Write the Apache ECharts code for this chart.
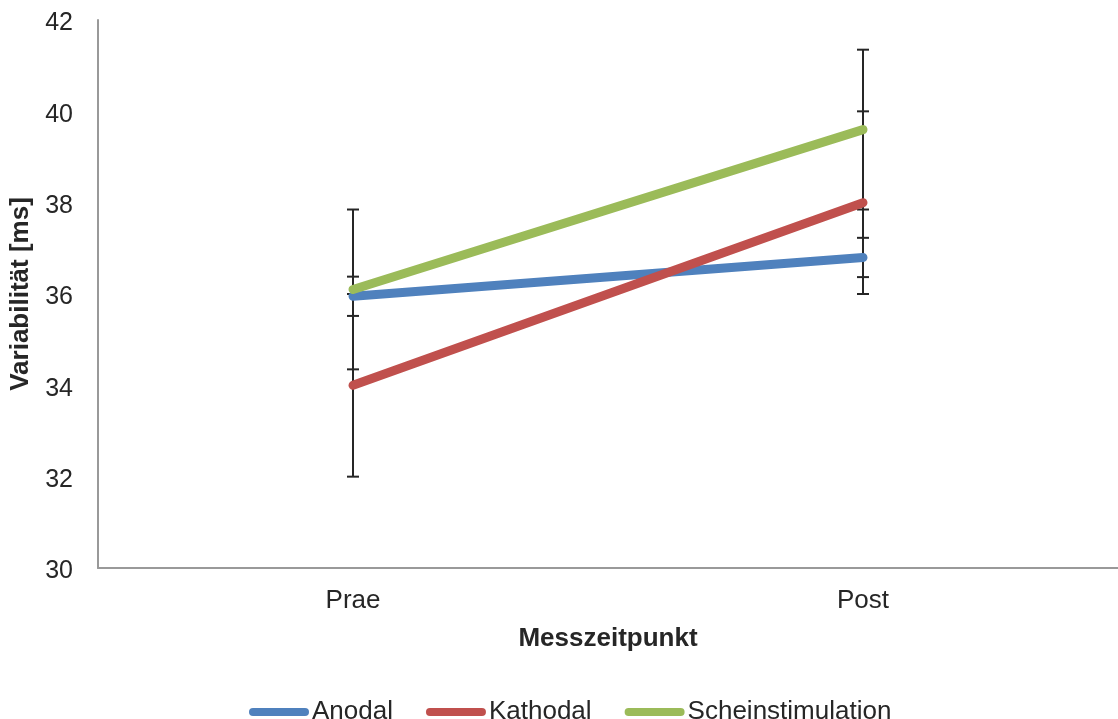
<!DOCTYPE html>
<html>
<head>
<meta charset="utf-8">
<script src="https://cdn.jsdelivr.net/npm/echarts@6/dist/echarts.min.js"></script>
<style>
html,body{margin:0;padding:0;background:#fff;}
#chart{width:1118px;height:719px;}
</style>
</head>
<body>
<div id="chart"></div>
<script>
const categories = ['Prae', 'Post'];
const anodal = [35.95, 36.8];
const kathodal = [34.0, 38.0];
const schein = [36.1, 39.6];
const anodalErr = [0.43, 0.43];
const kathodalErr = [2.0, 2.0];
const scheinErr = [1.75, 1.75];
const yTicks = [30, 32, 34, 36, 38, 40, 42];

const names = ['Anodal', 'Kathodal', 'Scheinstimulation'];
const colors = ['#4F81BD', '#C0504D', '#9BBB59'];
const values = [anodal, kathodal, schein];
const errs = [anodalErr, kathodalErr, scheinErr];

const chart = echarts.init(document.getElementById('chart'));
const FONT = 'Liberation Sans, Arial, sans-serif';
const TXT = '#262626';

function renderErr(params, api) {
  const x = api.value(0), v = api.value(1), e = api.value(2);
  const top = api.coord([x, v + e]);
  const bot = api.coord([x, v - e]);
  const hw = 6;
  const st = {stroke: '#262626', lineWidth: 2};
  return {type: 'group', children: [
    {type: 'line', shape: {x1: top[0], y1: top[1], x2: bot[0], y2: bot[1]}, style: st},
    {type: 'line', shape: {x1: top[0] - hw, y1: top[1], x2: top[0] + hw, y2: top[1]}, style: st},
    {type: 'line', shape: {x1: bot[0] - hw, y1: bot[1], x2: bot[0] + hw, y2: bot[1]}, style: st}
  ]};
}

const series = [];
names.forEach((n, i) => {
  series.push({
    name: n + ' err', type: 'custom', renderItem: renderErr, z: 1,
    data: categories.map((c, k) => [k, values[i][k], errs[i][k]]),
    silent: true
  });
});
names.forEach((n, i) => {
  series.push({
    name: n, type: 'line', data: values[i], z: 3,
    showSymbol: false, symbol: 'none',
    lineStyle: {color: colors[i], width: 9, cap: 'round'},
    itemStyle: {color: colors[i]}
  });
});

chart.setOption({
  animation: false,
  backgroundColor: '#fff',
  textStyle: {fontFamily: FONT},
  grid: {left: 98, width: 1026, top: 20, bottom: 151, containLabel: false},
  legend: {
    data: names,
    top: 694,
    left: 244,
    icon: 'path://M4,0 L56,0 A4,4 0 0 1 56,8 L4,8 A4,4 0 0 1 4,0 Z',
    itemWidth: 60, itemHeight: 8,
    itemGap: 33,
    textStyle: {fontSize: 26, color: TXT, fontFamily: FONT, padding: [0, 0, 0, -2]}
  },
  xAxis: {
    type: 'category', data: categories, boundaryGap: true,
    name: 'Messzeitpunkt', nameLocation: 'middle', nameGap: 58,
    nameTextStyle: {fontSize: 26, fontWeight: 'bold', color: TXT, fontFamily: FONT},
    axisLine: {lineStyle: {color: '#999', width: 2}},
    axisTick: {show: false},
    axisLabel: {fontSize: 26, color: TXT, margin: 20, fontFamily: FONT},
    splitLine: {show: false}
  },
  yAxis: {
    type: 'value', min: yTicks[0], max: yTicks[yTicks.length - 1], interval: 2,
    name: 'Variabilität [ms]', nameLocation: 'middle', nameGap: 60,
    nameTextStyle: {fontSize: 26, fontWeight: 'bold', color: TXT, fontFamily: FONT},
    axisLine: {show: true, lineStyle: {color: '#999', width: 2}},
    axisTick: {show: false},
    axisLabel: {fontSize: 25, color: TXT, margin: 25, fontFamily: FONT, verticalAlign: 'top', padding: [-9, 0, 0, 0]},
    splitLine: {show: false}
  },
  series: series
});
</script>
</body>
</html>
